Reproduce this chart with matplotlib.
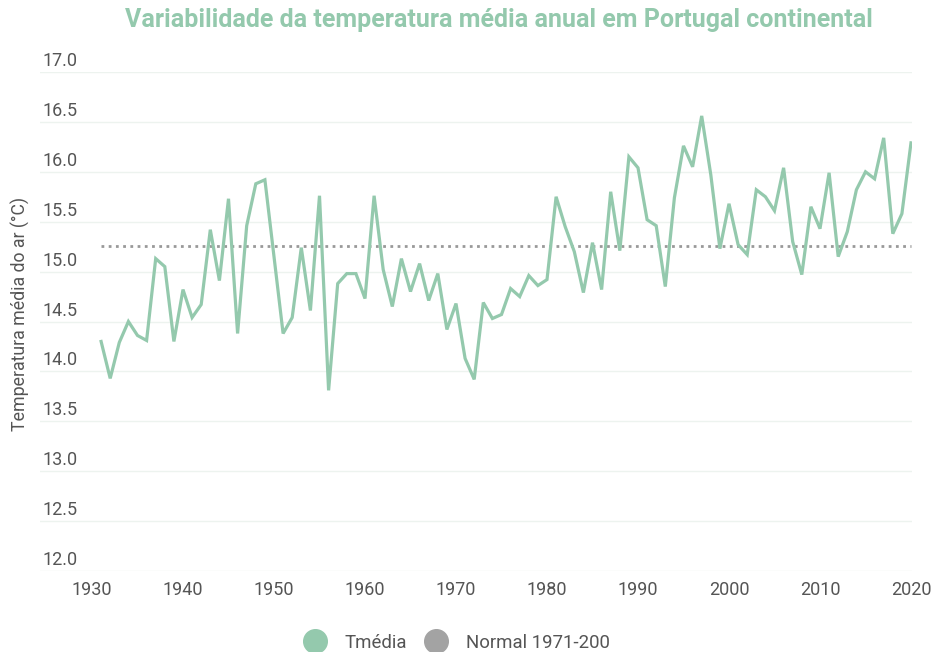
import matplotlib
matplotlib.use("Agg")
import matplotlib.pyplot as plt
from matplotlib.lines import Line2D

plt.rcParams['font.family'] = ['Roboto', 'DejaVu Sans']

years = list(range(1931, 2021))
tmedia = [14.30, 13.93, 14.29, 14.50, 14.36, 14.31, 15.13, 15.05, 14.30, 14.82,
          14.54, 14.67, 15.42, 14.91, 15.73, 14.38, 15.46, 15.88, 15.92, 15.15,
          14.38, 14.54, 15.24, 14.61, 15.76, 13.81, 14.88, 14.98, 14.98, 14.73,
          15.76, 15.02, 14.65, 15.13, 14.80, 15.08, 14.71, 14.98, 14.42, 14.68,
          14.13, 13.92, 14.69, 14.53, 14.57, 14.83, 14.75, 14.96, 14.86, 14.92,
          15.75, 15.45, 15.20, 14.79, 15.29, 14.82, 15.80, 15.21, 16.15, 16.04,
          15.52, 15.46, 14.85, 15.74, 16.26, 16.05, 16.56, 15.97, 15.23, 15.68,
          15.27, 15.17, 15.82, 15.75, 15.61, 16.04, 15.30, 14.97, 15.65, 15.43,
          15.99, 15.15, 15.40, 15.82, 16.00, 15.93, 16.34, 15.38, 15.58, 16.29]
normal = 15.26
normal_years = [1931, 2020]
yticks = [12.0, 12.5, 13.0, 13.5, 14.0, 14.5, 15.0, 15.5, 16.0, 16.5, 17.0]
xticks = [1930, 1940, 1950, 1960, 1970, 1980, 1990, 2000, 2010, 2020]

green = '#94c9ad'
gray = '#a3a3a3'
textc = '#555555'

fig = plt.figure(figsize=(9.36, 6.52), dpi=100)
W, H = 936, 652
left, right, top, bottom = 40, 912, 72, 571
ax = fig.add_axes([left / W, 1 - bottom / H, (right - left) / W, (bottom - top) / H])

ax.plot(years, tmedia, color=green, lw=2.3, solid_joinstyle='miter', zorder=3)
ax.plot(normal_years, [normal, normal], color='#999999', lw=2.0,
        linestyle=(0, (1, 1.6)), zorder=2)

ax.set_ylim(12.0, 17.0)
x0 = 1930 - (92 - 40) / 9.1
x1 = 2020 + (912 - 911) / 9.1
ax.set_xlim(x0, x1)

ax.set_yticks(yticks)
ax.set_yticklabels([])
ax.tick_params(axis='y', length=0)
for v in yticks:
    ax.text(0.003, v + 0.02, f"{v:.1f}", transform=ax.get_yaxis_transform(),
            ha='left', va='bottom', fontsize=13, color=textc)
ax.grid(axis='y', color='#edf3ef', lw=1.0)
ax.set_xticks(xticks)
ax.set_xticklabels([str(x) for x in xticks], fontsize=13, color=textc)
ax.tick_params(axis='x', length=0, pad=7)
for s in ax.spines.values():
    s.set_visible(False)

fig.text(20 / W, 1 - 314 / H, 'Temperatura média do ar (°C)', rotation=90,
         ha='center', va='center', fontsize=12.8, color=textc)
fig.text(499 / W, 1 - 20 / H, 'Variabilidade da temperatura média anual em Portugal continental',
         ha='center', va='center', fontsize=18, fontweight='bold', color=green)

handles = [Line2D([], [], marker='o', ls='none', color=green, markersize=17),
           Line2D([], [], marker='o', ls='none', color=gray, markersize=17)]
fig.legend(handles, ['Tmédia', 'Normal 1971-200'], loc='center',
           bbox_to_anchor=(457 / W, 1 - 643 / H), ncol=2, frameon=False,
           fontsize=13.4, labelcolor=textc, handletextpad=1.0, columnspacing=0.95,
           handlelength=1.2, borderpad=0.1)

fig.savefig('out.png', dpi=100)
